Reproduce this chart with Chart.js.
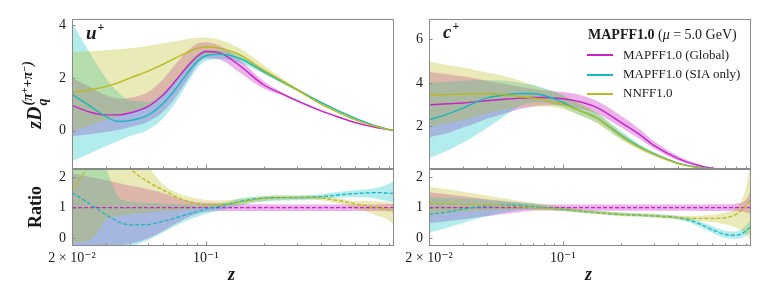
<!DOCTYPE html>
<html><head><meta charset="utf-8">
<script src="https://cdn.jsdelivr.net/npm/chart.js@4.4.1/dist/chart.umd.min.js"></script>
<style>
html,body{margin:0;padding:0;background:#fff;}
#wrap{position:relative;width:764px;height:283px;overflow:hidden;font-family:"Liberation Serif","DejaVu Serif",serif;color:#1a1a1a;}
canvas{position:absolute;left:0;top:0;}
.t{position:absolute;white-space:nowrap;line-height:1;}
.lab{font-weight:bold;font-style:italic;font-size:19px;}
.sp{font-size:12px;position:relative;top:-8px;margin-left:1px;font-style:normal;}
.rot{transform:translate(-50%,-50%) rotate(-90deg);}
.stack{display:inline-flex;flex-direction:column;vertical-align:middle;font-weight:bold;font-style:italic;font-size:14px;line-height:1.05;margin-left:1px;}
.s2{font-size:10px;position:relative;top:-4px;}
.ln{position:absolute;height:1.6px;width:26px;}
.leg{font-size:13px;}
</style></head><body>
<div id="wrap">
<canvas id="cu" width="764" height="283"></canvas>
<canvas id="cur" width="764" height="283"></canvas>
<canvas id="cc" width="764" height="283"></canvas>
<canvas id="ccr" width="764" height="283"></canvas>

<div class="t lab" style="left:86px;top:23px;">u<span class="sp">+</span></div>
<div class="t lab" style="left:443px;top:22px;">c<span class="sp">+</span></div>

<div class="t rot" style="left:36px;top:95px;font-size:20px;"><b><i>zD</i></b><span class="stack"><span>(π<span class="s2">+</span>+π<span class="s2">−</span>)</span><span>q</span></span></div>
<div class="t rot" style="left:35px;top:207px;font-size:18px;font-weight:bold;">Ratio</div>
<div class="t lab" style="left:228px;top:265px;font-size:18px;">z</div>
<div class="t lab" style="left:585px;top:265px;font-size:18px;">z</div>

<div class="t" style="left:588px;top:28px;font-size:14px;"><b>MAPFF1.0</b> (<i>μ</i> = 5.0 GeV)</div>
<div class="ln" id="lg0" style="left:587px;top:54px;"></div>
<div class="ln" id="lg1" style="left:587px;top:74px;"></div>
<div class="ln" id="lg2" style="left:587px;top:93px;"></div>
<div class="t leg" style="left:623px;top:48px;">MAPFF1.0 (Global)</div>
<div class="t leg" style="left:623px;top:67px;">MAPFF1.0 (SIA only)</div>
<div class="t leg" style="left:623px;top:86px;">NNFF1.0</div>
</div>
<script>
// ---------------- data ----------------
const Z = [0.02,0.025,0.03,0.035,0.04,0.05,0.06,0.07,0.08,0.09,0.1,0.12,0.15,0.2,0.25,0.3,0.4,0.5,0.6,0.7,0.8,0.9,0.96];

const SERIES_NAMES = ['MAPFF1.0 (Global)','MAPFF1.0 (SIA only)','NNFF1.0'];

// u+ : z D
const U_GLB    = [0.96,0.70,0.60,0.60,0.67,0.92,1.36,1.92,2.43,2.81,3.00,2.93,2.47,1.74,1.40,1.13,0.75,0.50,0.31,0.19,0.10,0.04,0.01];
const U_GLB_LO = [-0.21,-0.13,-0.05,0.04,0.13,0.35,0.73,1.30,1.92,2.49,2.74,2.68,2.20,1.60,1.34,1.09,0.72,0.48,0.30,0.18,0.09,0.04,0.01];
const U_GLB_HI = [2.00,1.65,1.35,1.22,1.25,1.47,1.96,2.55,3.01,3.30,3.35,3.20,2.70,1.88,1.45,1.17,0.78,0.52,0.32,0.20,0.11,0.04,0.01];
const U_SIA    = [1.38,0.92,0.54,0.35,0.38,0.60,1.04,1.61,2.18,2.62,2.84,2.89,2.74,2.24,1.86,1.55,1.07,0.73,0.48,0.29,0.15,0.05,0.01];
const U_SIA_LO = [-1.16,-0.84,-0.59,-0.38,-0.21,0.04,0.48,1.11,1.80,2.36,2.64,2.72,2.58,2.17,1.81,1.51,1.04,0.71,0.46,0.28,0.14,0.05,0.01];
const U_SIA_HI = [4.10,2.90,2.00,1.45,1.15,1.10,1.45,2.00,2.50,2.90,3.06,3.04,2.88,2.32,1.92,1.60,1.10,0.75,0.50,0.30,0.16,0.06,0.01];
const U_NN     = [1.45,1.55,1.67,1.82,1.99,2.26,2.52,2.77,2.97,3.12,3.18,3.12,2.88,2.30,1.89,1.55,1.01,0.67,0.42,0.25,0.13,0.04,0.01];
const U_NN_LO  = [0.00,0.20,0.40,0.55,0.70,0.95,1.40,1.90,2.35,2.70,2.90,2.88,2.70,2.15,1.79,1.49,0.97,0.65,0.41,0.24,0.12,0.04,0.01];
const U_NN_HI  = [2.99,3.02,3.05,3.08,3.12,3.22,3.31,3.40,3.47,3.52,3.53,3.43,3.12,2.49,1.99,1.62,1.06,0.70,0.44,0.26,0.14,0.05,0.01];

// c+ : z D
const C_GLB    = [2.99,3.04,3.08,3.13,3.18,3.25,3.30,3.33,3.33,3.30,3.27,3.15,2.88,2.20,1.65,1.12,0.53,0.24,0.09,0.04,0.02,0.01,0.00];
const C_GLB_LO = [1.50,1.70,1.95,2.15,2.35,2.60,2.80,2.92,2.96,2.97,2.95,2.84,2.60,1.98,1.45,0.98,0.44,0.18,0.06,0.03,0.01,0.00,0.00];
const C_GLB_HI = [4.50,4.40,4.30,4.20,4.10,3.95,3.82,3.72,3.66,3.62,3.58,3.47,3.18,2.50,1.90,1.32,0.65,0.30,0.12,0.06,0.03,0.01,0.00];
const C_SIA    = [2.30,2.57,2.84,3.11,3.30,3.45,3.51,3.50,3.42,3.27,3.11,2.76,2.40,1.62,1.09,0.74,0.32,0.14,0.06,0.03,0.01,0.00,0.00];
const C_SIA_LO = [0.55,0.90,1.25,1.60,1.92,2.50,2.95,3.10,3.10,3.00,2.88,2.55,2.20,1.45,0.98,0.66,0.28,0.12,0.05,0.02,0.00,0.00,0.00];
const C_SIA_HI = [4.00,4.05,4.10,4.12,4.12,4.10,4.00,3.90,3.75,3.60,3.42,3.05,2.62,1.80,1.20,0.82,0.36,0.16,0.07,0.04,0.01,0.00,0.00];
const C_NN     = [3.45,3.46,3.48,3.50,3.50,3.45,3.37,3.30,3.22,3.11,3.02,2.76,2.38,1.58,1.05,0.72,0.30,0.12,0.05,0.02,0.01,0.00,0.00];
const C_NN_LO  = [2.00,2.15,2.30,2.45,2.60,2.78,2.88,2.92,2.92,2.87,2.80,2.55,2.15,1.42,0.94,0.64,0.26,0.10,0.04,0.01,0.00,0.00,0.00];
const C_NN_HI  = [4.98,4.82,4.70,4.58,4.48,4.30,4.10,3.90,3.72,3.57,3.44,3.12,2.65,1.75,1.15,0.80,0.34,0.14,0.06,0.03,0.01,0.00,0.00];

// ratios to MAPFF1.0 (Global), u+
const RU_GLB    = [1,1,1,1,1,1,1,1,1,1,1,1,1,1,1,1,1,1,1,1,1,1,1];
const RU_GLB_LO = [-0.28,-0.30,-0.28,-0.25,-0.18,0.00,0.25,0.48,0.68,0.80,0.87,0.89,0.89,0.89,0.89,0.89,0.89,0.89,0.89,0.89,0.89,0.88,0.87];
const RU_GLB_HI = [2.11,2.00,1.90,1.80,1.72,1.60,1.47,1.33,1.23,1.18,1.16,1.14,1.12,1.11,1.10,1.10,1.10,1.10,1.10,1.10,1.11,1.12,1.13];
const RU_SIA    = [1.49,1.11,0.78,0.54,0.44,0.45,0.56,0.67,0.78,0.87,0.95,1.05,1.20,1.31,1.33,1.33,1.36,1.42,1.46,1.48,1.49,1.47,1.46];
const RU_SIA_LO = [-0.60,-0.60,-0.55,-0.45,-0.30,-0.05,0.20,0.42,0.58,0.70,0.80,0.92,1.08,1.20,1.23,1.24,1.27,1.33,1.35,1.33,1.27,1.20,1.16];
const RU_SIA_HI = [4.00,3.50,2.30,1.35,1.20,1.16,1.13,1.12,1.11,1.10,1.10,1.14,1.30,1.38,1.40,1.40,1.44,1.52,1.57,1.60,1.66,1.77,1.87];
const RU_NN     = [1.57,2.40,2.90,2.80,2.30,1.84,1.57,1.35,1.21,1.13,1.10,1.10,1.18,1.30,1.33,1.33,1.31,1.22,1.13,1.05,1.00,0.93,0.89];
const RU_NN_LO  = [-0.15,-0.05,0.60,0.74,0.78,0.84,0.88,0.91,0.93,0.97,1.00,1.03,1.10,1.22,1.26,1.27,1.24,1.12,0.98,0.85,0.72,0.60,0.45];
const RU_NN_HI  = [3.00,3.30,3.50,3.50,3.20,2.35,1.75,1.50,1.37,1.30,1.25,1.23,1.28,1.38,1.40,1.40,1.38,1.30,1.22,1.22,1.20,1.18,1.15];

// ratios to MAPFF1.0 (Global), c+
const RC_GLB    = [1,1,1,1,1,1,1,1,1,1,1,1,1,1,1,1,1,1,1,1,1,1,1];
const RC_GLB_LO = [0.50,0.56,0.62,0.68,0.72,0.80,0.86,0.90,0.91,0.91,0.90,0.90,0.90,0.90,0.90,0.90,0.90,0.90,0.89,0.89,0.88,0.85,0.80];
const RC_GLB_HI = [1.50,1.44,1.38,1.32,1.27,1.20,1.15,1.12,1.10,1.10,1.10,1.10,1.10,1.10,1.10,1.10,1.10,1.10,1.11,1.11,1.13,1.25,1.55];
const RC_SIA    = [0.78,0.86,0.95,1.02,1.05,1.08,1.07,1.03,1.00,0.97,0.95,0.89,0.84,0.78,0.76,0.73,0.67,0.51,0.29,0.13,0.10,0.23,0.40];
const RC_SIA_LO = [0.18,0.35,0.50,0.62,0.72,0.85,0.93,0.95,0.93,0.91,0.89,0.84,0.79,0.73,0.71,0.68,0.62,0.42,0.18,0.02,-0.01,0.08,0.20];
const RC_SIA_HI = [1.34,1.32,1.30,1.28,1.25,1.22,1.18,1.14,1.08,1.04,1.01,0.95,0.90,0.84,0.81,0.79,0.73,0.60,0.40,0.24,0.22,0.40,0.62];
const RC_NN     = [1.13,1.13,1.11,1.10,1.09,1.05,1.03,1.00,0.98,0.97,0.95,0.89,0.84,0.78,0.75,0.73,0.67,0.65,0.65,0.67,0.78,1.05,1.27];
const RC_NN_LO  = [0.78,0.82,0.86,0.89,0.91,0.93,0.94,0.93,0.92,0.91,0.89,0.84,0.79,0.73,0.70,0.68,0.61,0.57,0.53,0.46,0.35,0.15,-0.10];
const RC_NN_HI  = [1.67,1.60,1.52,1.45,1.40,1.30,1.22,1.16,1.11,1.07,1.03,0.96,0.90,0.84,0.81,0.79,0.74,0.74,0.77,0.84,1.00,1.60,2.50];

// axes / ticks
const X_MIN = 0.02, X_MAX = 0.96;
const X_LABEL_VALUES = [0.02, 0.1];
const X_LABEL_TEXT = ['2 × 10⁻²', '10⁻¹'];
const X_MINOR = [0.03,0.04,0.05,0.06,0.07,0.08,0.09,0.2,0.3,0.4,0.5,0.6,0.7,0.8,0.9];
const X_MAJOR = [0.1];
const YT_U = [0,2,4], YT_C = [2,4,6], YT_R = [0,1,2];

// ---------------- style ----------------
const COLORS = ['#c823c8', '#17b6bd', '#b9b91f'];
const FILLS = ['rgba(191,0,191,0.30)', 'rgba(0,191,191,0.30)', 'rgba(188,189,34,0.32)'];
const FONT = "'Liberation Serif', 'DejaVu Serif', serif";
const FRAME = '#8a8a8a';
const YAXIS_W = 40, XAXIS_H = 30;
['lg0','lg1','lg2'].forEach((id,i)=>document.getElementById(id).style.background = COLORS[i]);

function pts(arr){ return Z.map((z,i)=>({x:z, y:arr[i]})); }

function buildDatasets(sets, dashed){
  const ds = [];
  sets.forEach((s,k)=>{
    const loIdx = ds.length;
    ds.push({label: SERIES_NAMES[k]+' lo', data: pts(s[1]), borderWidth:0, pointRadius:0, fill:false, order: 9-k,
             borderColor:'rgba(0,0,0,0)', cubicInterpolationMode:'monotone'});
    ds.push({label: SERIES_NAMES[k]+' band', data: pts(s[2]), borderWidth:0, pointRadius:0,
             borderColor:'rgba(0,0,0,0)', backgroundColor: FILLS[k], fill:{target: loIdx}, order: 9-k,
             cubicInterpolationMode:'monotone'});
  });
  sets.forEach((s,k)=>{
    ds.push({label: SERIES_NAMES[k], data: pts(s[0]), borderColor: COLORS[k], borderWidth: dashed?1.3:1.4,
             borderDash: dashed?[4,2]:[], pointRadius:0, fill:false, order: 3-k,
             cubicInterpolationMode:'monotone'});
  });
  return ds;
}

const framePlugin = {
  id: 'frame',
  afterDatasetsDraw(chart, args, opts){
    const {ctx, chartArea:a, scales:{x, y}} = chart;
    ctx.save();
    ctx.strokeStyle = FRAME; ctx.lineWidth = 1;
    ctx.beginPath();
    X_MINOR.forEach(v=>{ const p = Math.round(x.getPixelForValue(v))+0.5; ctx.moveTo(p, a.bottom); ctx.lineTo(p, a.bottom-2.5); });
    X_MAJOR.forEach(v=>{ const p = Math.round(x.getPixelForValue(v))+0.5; ctx.moveTo(p, a.bottom); ctx.lineTo(p, a.bottom-4.5); });
    opts.yticks.forEach(v=>{ const p = Math.round(y.getPixelForValue(v))+0.5; ctx.moveTo(a.left, p); ctx.lineTo(a.left+3.5, p); });
    ctx.stroke();
    ctx.strokeRect(a.left+0.5, a.top+0.5, a.right-a.left-1, a.bottom-a.top-1);
    ctx.restore();
  }
};

function makeChart(id, sets, dashed, box, ymin, ymax, yticks, showX){
  new Chart(document.getElementById(id), {
    type: 'line',
    data: { datasets: buildDatasets(sets, dashed) },
    plugins: [framePlugin],
    options: {
      responsive:false, animation:false, events:[],
      layout: { padding: { left: box[0]-YAXIS_W, top: box[1], right: 764-box[2], bottom: 283-box[3]-XAXIS_H } },
      plugins: { legend:{display:false}, tooltip:{enabled:false}, frame:{yticks}, filler:{propagate:false} },
      scales: {
        x: { type:'logarithmic', min:X_MIN, max:X_MAX,
             grid:{display:false, drawTicks:false}, border:{display:false},
             ticks:{ display:showX, autoSkip:false, maxRotation:0, padding:4, color:'#1a1a1a',
                     font:{family:FONT, size:14},
                     callback:(v)=>{ const i = X_LABEL_VALUES.findIndex(t=>Math.abs(t-v)<1e-9); return i>=0 ? X_LABEL_TEXT[i] : ''; } },
             afterBuildTicks:(s)=>{ s.ticks = X_LABEL_VALUES.map(v=>({value:v})); },
             afterFit:(s)=>{ s.height = XAXIS_H; } },
        y: { type:'linear', min:ymin, max:ymax,
             grid:{display:false, drawTicks:false}, border:{display:false},
             ticks:{ padding:6, color:'#1a1a1a', font:{family:FONT, size:14} },
             afterBuildTicks:(s)=>{ s.ticks = yticks.map(v=>({value:v})); },
             afterFit:(s)=>{ s.width = YAXIS_W; } }
      }
    }
  });
}

makeChart('cu', [[U_GLB,U_GLB_LO,U_GLB_HI],[U_SIA,U_SIA_LO,U_SIA_HI],[U_NN,U_NN_LO,U_NN_HI]], false,
          [72,19,394,169], -1.45, 4.23, YT_U, false);
makeChart('cur', [[RU_GLB,RU_GLB_LO,RU_GLB_HI],[RU_SIA,RU_SIA_LO,RU_SIA_HI],[RU_NN,RU_NN_LO,RU_NN_HI]], true,
          [72,169,394,246], -0.25, 2.26, YT_R, true);
makeChart('cc', [[C_GLB,C_GLB_LO,C_GLB_HI],[C_SIA,C_SIA_LO,C_SIA_HI],[C_NN,C_NN_LO,C_NN_HI]], false,
          [429,19,751,169], 0.05, 6.93, YT_C, false);
makeChart('ccr', [[RC_GLB,RC_GLB_LO,RC_GLB_HI],[RC_SIA,RC_SIA_LO,RC_SIA_HI],[RC_NN,RC_NN_LO,RC_NN_HI]], true,
          [429,169,751,246], -0.25, 2.26, YT_R, true);
</script>
</body></html>
